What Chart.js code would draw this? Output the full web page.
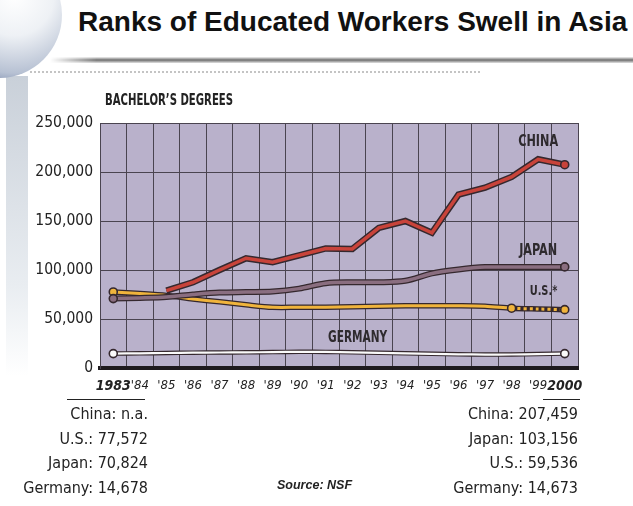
<!DOCTYPE html>
<html>
<head>
<meta charset="utf-8">
<script src="https://cdn.jsdelivr.net/npm/chart.js@4.4.1/dist/chart.umd.min.js"></script>
<style>
  body {
    margin: 0;
    width: 633px;
    height: 506px;
    overflow: hidden;
    position: relative;
    background: #fff;
    font-family: "Liberation Sans Narrow", "DejaVu Sans Condensed", sans-serif;
  }
  .globe {
    position: absolute;
    left: -64px;
    top: -48px;
    width: 126px;
    height: 126px;
    border-radius: 50%;
    background: radial-gradient(circle at 62% 35%, #ffffff 0%, #eef1f5 35%, #b7c1d3 68%, #5c7098 88%, #2f4670 100%);
  }
  .band {
    position: absolute;
    left: 6px;
    top: 76px;
    width: 22px;
    height: 300px;
    background: linear-gradient(to bottom, #c9d0d9, #e9edf1 70%, #fff);
  }
  .rule {
    position: absolute;
    left: 50px;
    top: 57px;
    width: 583px;
    height: 6px;
    background: linear-gradient(to bottom, #f2f2f2, #6e6e6e 50%, #e2e2e2);
    -webkit-mask-image: linear-gradient(to right, transparent, #000 8%);
  }
  .sub {
    position: absolute;
    left: 30px;
    top: 71px;
    width: 450px;
    border-top: 2px dotted #c4c4c4;
  }
  .title {
    position: absolute;
    left: 78px;
    top: 6px;
    font-family: "Liberation Sans", Arial, sans-serif;
    font-weight: bold;
    font-size: 28px;
    color: #111;
    white-space: nowrap;
  }
  .head {
    position: absolute;
    left: 105px;
    top: 91px;
    font-weight: bold;
    font-size: 15px;
    color: #222;
    white-space: nowrap;
    transform: scaleX(0.75);
    transform-origin: left top;
  }
  #wrap {
    position: absolute;
    left: 0;
    top: 0;
    width: 633px;
    height: 506px;
  }
  .block {
    position: absolute;
    top: 402px;
    text-align: right;
    font-size: 16px;
    line-height: 24.5px;
    color: #222;
  }
  .line {
    position: absolute;
    top: 399px;
    height: 0;
    border-top: 1.5px solid #222;
  }
  .src {
    position: absolute;
    left: 277px;
    top: 478px;
    font-family: "Liberation Sans", Arial, sans-serif;
    font-weight: bold;
    font-style: italic;
    font-size: 12.5px;
    color: #222;
  }
</style>
</head>
<body>
<div class="band"></div>
<div class="globe"></div>
<div class="rule"></div>
<div class="sub"></div>
<div class="title">Ranks of Educated Workers Swell in Asia</div>
<div class="head">BACHELOR’S DEGREES</div>
<div id="wrap"><canvas id="chart"></canvas></div>
<div class="line" style="left:67px;width:78px"></div>
<div class="line" style="left:543px;width:37px"></div>
<div class="block" style="right:485px">China: n.a.<br>U.S.: 77,572<br>Japan: 70,824<br>Germany: 14,678</div>
<div class="block" style="right:55px">China: 207,459<br>Japan: 103,156<br>U.S.: 59,536<br>Germany: 14,673</div>
<div class="src">Source: NSF</div>
<script>
const years = ["1983", "'84", "'85", "'86", "'87", "'88", "'89", "'90", "'91",
  "'92", "'93", "'94", "'95", "'96", "'97", "'98", "'99", "2000"];
const china = [null, null, 79000, 87500, 100000, 112000, 108000, 115000, 122000,
  121500, 143000, 150000, 138000, 177000, 184000, 195000, 213000, 207459];
const japan = [70824, 71500, 72500, 75000, 77000, 77500, 78000, 81000, 86500,
  87500, 87500, 89000, 96500, 100500, 103000, 103000, 103000, 103156];
const us = [77572, 76000, 74000, 70500, 67500, 64500, 62000, 62000, 62000,
  62500, 63000, 63500, 63500, 63500, 63000, 61000, 60200, 59536];
const germany = [14678, 15000, 15300, 15600, 15800, 16000, 16200, 16500, 16400,
  16000, 15500, 15000, 14500, 14000, 13700, 13800, 14200, 14673];
const yTicks = [0, 50000, 100000, 150000, 200000, 250000];

const seriesLabels = [
  { text: "CHINA", x: 16, y: 231000, size: 16 },
  { text: "JAPAN", x: 16, y: 119500, size: 16 },
  { text: "U.S.*", x: 16.2, y: 78000, size: 14 },
  { text: "GERMANY", x: 9.2, y: 31000, size: 15 },
];

const narrow = '"Liberation Sans Narrow", "DejaVu Sans Condensed", sans-serif';
const dark = "#35282e";

function marks(idx, r) {
  return (ctx) => (idx.includes(ctx.dataIndex) ? r : 0);
}

function outlineSet(data, width, tension, order) {
  return {
    data: data,
    borderColor: dark,
    borderWidth: width,
    tension: tension,
    pointRadius: 0,
    order: order,
  };
}

function fillSet(data, color, width, tension, idx, order) {
  return {
    data: data,
    borderColor: color,
    borderWidth: width,
    tension: tension,
    pointRadius: marks(idx, 4),
    pointBackgroundColor: color,
    pointBorderColor: dark,
    pointBorderWidth: 1.6,
    order: order,
  };
}

const plotBg = {
  id: "plotBg",
  beforeDraw(chart) {
    const { ctx, chartArea: a } = chart;
    ctx.save();
    ctx.fillStyle = "#b9b1cb";
    ctx.fillRect(a.left, a.top, a.right - a.left, a.bottom - a.top);
    ctx.restore();
  },
  afterDatasetsDraw(chart) {
    const { ctx, scales } = chart;
    ctx.save();
    ctx.fillStyle = "#2e2a2e";
    ctx.textAlign = "center";
    ctx.textBaseline = "middle";
    seriesLabels.forEach((l) => {
      // squeeze the labels sideways, like the condensed face of the original
      const px = scales.x.getPixelForValue(l.x);
      const py = scales.y.getPixelForValue(l.y);
      ctx.save();
      ctx.translate(px, py);
      ctx.scale(0.78, 1);
      ctx.font = "bold " + l.size + "px " + narrow;
      ctx.fillText(l.text, 0, 0);
      ctx.restore();
    });
    ctx.restore();
  },
};

const usSet = fillSet(us, "#f0b43c", 3, 0.3, [0, 15, 17], 4);
usSet.segment = {
  borderDash: (ctx) => (ctx.p0DataIndex >= 15 ? [3, 3] : undefined),
};

const chinaSet = fillSet(china, "#c8433a", 3.5, 0, [17], 0);
chinaSet.borderCapStyle = "butt";

new Chart(document.getElementById("chart"), {
  type: "line",
  data: {
    labels: years,
    datasets: [
      outlineSet(germany, 4.5, 0.3, 7),
      fillSet(germany, "#fafafa", 2.2, 0.3, [0, 17], 6),
      outlineSet(us, 5.5, 0.3, 5),
      usSet,
      outlineSet(japan, 6, 0.3, 3),
      fillSet(japan, "#8a6e80", 3.5, 0.3, [0, 17], 2),
      outlineSet(china, 6.5, 0, 1),
      chinaSet,
    ],
  },
  options: {
    responsive: true,
    maintainAspectRatio: false,
    animation: false,
    layout: { padding: { top: 123, right: 55, left: 0, bottom: 0 } },
    plugins: {
      legend: { display: false },
      tooltip: { enabled: false },
    },
    scales: {
      x: {
        offset: true,
        grid: { offset: true, color: "#4a4450", lineWidth: 1, drawTicks: false },
        border: { color: "#1e1a1e", width: 4 },
        ticks: {
          padding: 10,
          color: "#222",
          maxRotation: 0,
          autoSkip: false,
          font: (ctx) => {
            const edge = ctx.index === 0 || ctx.index === years.length - 1;
            return edge
              ? { family: narrow, size: 14, style: "italic", weight: "bold" }
              : { family: narrow, size: 13, style: "italic", weight: "normal" };
          },
        },
        afterFit: (s) => { s.height = 138; },
      },
      y: {
        min: 0,
        max: 250000,
        afterBuildTicks: (s) => { s.ticks = yTicks.map((v) => ({ value: v })); },
        grid: { color: "#4a4450", lineWidth: 1, drawTicks: false },
        border: { color: "#4a4450", width: 1 },
        ticks: {
          padding: 7,
          color: "#222",
          font: { family: narrow, size: 15.5 },
          callback: (v) => v.toLocaleString("en-US"),
        },
        afterFit: (s) => { s.width = 100; },
      },
    },
  },
  plugins: [plotBg],
});
</script>
</body>
</html>
